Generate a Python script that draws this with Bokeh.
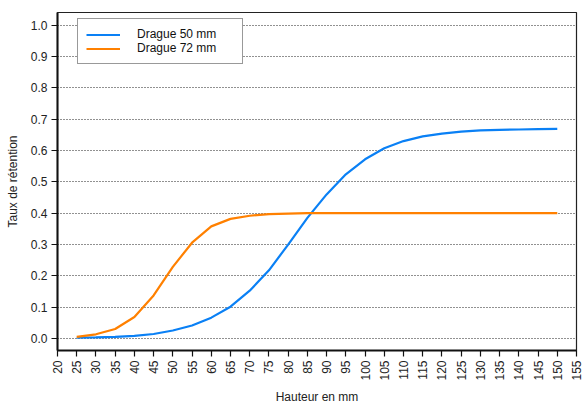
from bokeh.plotting import figure
from bokeh.models import Range1d, FixedTicker, Legend, LegendItem, CustomJSTickFormatter
from bokeh.embed import file_html
from bokeh.resources import INLINE
import math

hauteur = [25, 30, 35, 40, 45, 50, 55, 60, 65, 70, 75, 80, 85, 90, 95, 100,
           105, 110, 115, 120, 125, 130, 135, 140, 145, 150]
drague_50 = [0.003, 0.004, 0.006, 0.009, 0.015, 0.026, 0.042, 0.067, 0.102, 0.153,
             0.218, 0.300, 0.385, 0.460, 0.524, 0.572, 0.607, 0.630, 0.645, 0.654,
             0.660, 0.664, 0.666, 0.667, 0.668, 0.669]
drague_72 = [0.006, 0.014, 0.031, 0.069, 0.138, 0.229, 0.306, 0.358, 0.382, 0.392,
             0.397, 0.399, 0.400, 0.400, 0.400, 0.400, 0.400, 0.400, 0.400, 0.400,
             0.400, 0.400, 0.400, 0.400, 0.400, 0.400]
x_ticks = list(range(20, 160, 5))
y_ticks = [0.0, 0.1, 0.2, 0.3, 0.4, 0.5, 0.6, 0.7, 0.8, 0.9, 1.0]
series_names = ["Drague 50 mm", "Drague 72 mm"]
series_colors = ["#0a80f5", "#ff8000"]

FONT = "Liberation Sans"

p = figure(width=584, height=406, output_backend="svg", toolbar_location=None,
           x_range=Range1d(20, 155), y_range=Range1d(-0.0377, 1.040),
           min_border_left=57, min_border_right=8, min_border_top=12, min_border_bottom=51)

p.background_fill_color = "white"
p.border_fill_color = "white"
p.outline_line_color = "#222222"
p.outline_line_width = 1.2

r1 = p.line(hauteur, drague_50, line_color=series_colors[0], line_width=2.2)
r2 = p.line(hauteur, drague_72, line_color=series_colors[1], line_width=2.2)

p.xgrid.visible = False
p.ygrid.ticker = FixedTicker(ticks=y_ticks)
p.ygrid.grid_line_color = "#222222"
p.ygrid.grid_line_dash = "1 2"
p.ygrid.grid_line_width = 1

p.xaxis.ticker = FixedTicker(ticks=x_ticks)
p.yaxis.ticker = FixedTicker(ticks=y_ticks)
p.yaxis.formatter = CustomJSTickFormatter(code="return tick.toFixed(1);")
p.xaxis.major_label_orientation = math.pi / 2

for ax in (p.xaxis[0], p.yaxis[0]):
    ax.axis_line_color = "#111111"
    ax.axis_line_width = 2
    ax.major_tick_line_color = "#111111"
    ax.major_tick_line_width = 1.2
    ax.major_tick_out = 6
    ax.major_tick_in = 0
    ax.minor_tick_out = 0
    ax.minor_tick_in = 0
    ax.major_label_text_font = FONT
    ax.major_label_text_font_size = "12px"
    ax.major_label_text_color = "#222222"
    ax.axis_label_text_font = FONT
    ax.axis_label_text_font_size = "12px"
    ax.axis_label_text_font_style = "normal"
    ax.axis_label_text_color = "#222222"

p.xaxis.major_label_standoff = 4
p.yaxis.major_label_standoff = 4
p.xaxis.axis_label = "Hauteur en mm"
p.yaxis.axis_label = "Taux de rétention"
p.xaxis.axis_label_standoff = 6
p.yaxis.axis_label_standoff = 8

legend = Legend(items=[LegendItem(label=series_names[0], renderers=[r1]),
                       LegendItem(label=series_names[1], renderers=[r2])],
                location=(20, 286))
legend.margin = 0
legend.padding = 8
legend.spacing = 0
legend.glyph_width = 34
legend.glyph_height = 13
legend.label_height = 13
legend.label_width = 97
legend.label_standoff = 17
legend.label_text_font = FONT
legend.label_text_font_size = "12px"
legend.label_text_color = "#111111"
legend.border_line_color = "#333333"
legend.border_line_width = 1.2
legend.background_fill_color = "white"
legend.background_fill_alpha = 1
p.add_layout(legend, "center")

open("out.html", "w").write(file_html(p, INLINE))
